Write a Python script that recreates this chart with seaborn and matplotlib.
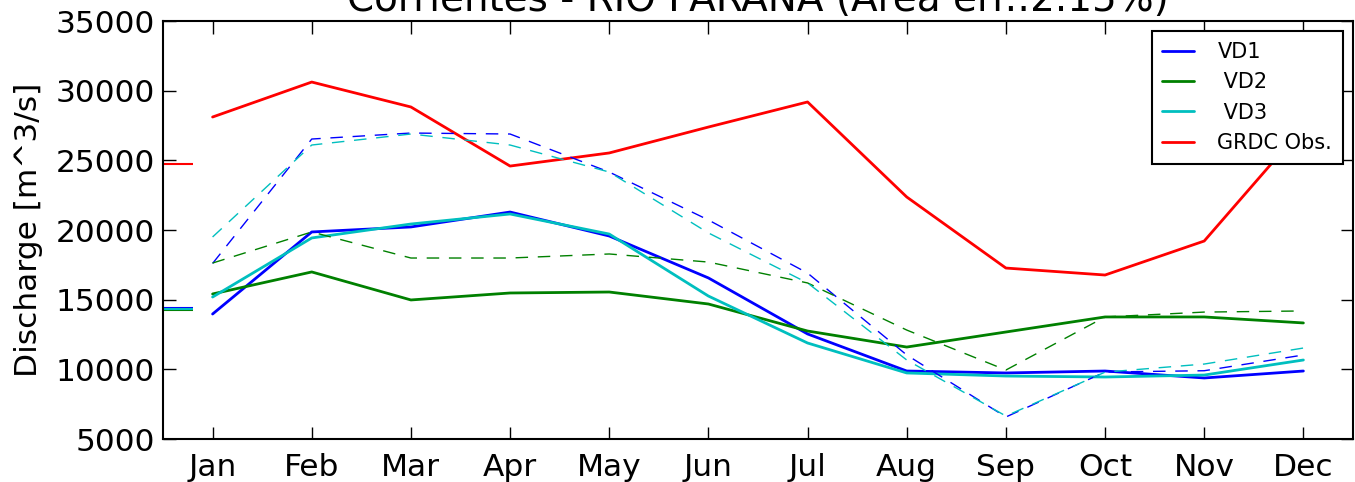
import numpy as np
import pandas as pd
import matplotlib
matplotlib.use("Agg")
import matplotlib.pyplot as plt
import seaborn as sns

months = ['Jan', 'Feb', 'Mar', 'Apr', 'May', 'Jun',
          'Jul', 'Aug', 'Sep', 'Oct', 'Nov', 'Dec']
month_num = np.arange(1, 13)

# simulated discharge (solid) and the second run (dashed), observed GRDC
vd1 = [13970, 19860, 20220, 21290, 19570, 16560, 12540, 9880, 9740, 9880, 9380, 9880]
vd2 = [15410, 16990, 14980, 15480, 15550, 14690, 12750, 11600, 12680, 13760, 13760, 13330]
vd3 = [15190, 19430, 20430, 21150, 19710, 15260, 11890, 9740, 9520, 9450, 9590, 10670]
grdc = [28110, 30620, 28830, 24590, 25530, 27390, 29190, 22370, 17270, 16770, 19210, 27400]

vd1_b = [17600, 26530, 26960, 26890, 24160, 20720, 16910, 11030, 6580, 9810, 9900, 11030]
vd2_b = [17630, 19860, 17990, 17990, 18280, 17700, 16200, 12820, 9950, 13760, 14110, 14190]
vd3_b = [19500, 26100, 26890, 26100, 24160, 19790, 16200, 10670, 6650, 9800, 10380, 11530]

title = 'Corrientes - RIO PARANA (Area err.:2.15%)'

sns.set_style('ticks')
plt.rcParams['font.family'] = ['DejaVu Sans']
plt.rcParams['xtick.direction'] = 'in'
plt.rcParams['ytick.direction'] = 'in'
plt.rcParams['xtick.top'] = True
plt.rcParams['ytick.right'] = True
for k in ['text.color', 'axes.labelcolor', 'xtick.color', 'ytick.color', 'axes.edgecolor']:
    plt.rcParams[k] = 'black'

fig = plt.figure(figsize=(13.55, 4.82), dpi=100)
ax = fig.add_axes([0.1203, 0.0892, 0.8782, 0.8672])

solid = [(vd1, 'b', 'VD1'), (vd2, 'g', ' VD2'), (vd3, 'c', ' VD3'), (grdc, 'r', 'GRDC Obs.')]
dashed = [(vd1_b, 'b'), (vd2_b, 'g'), (vd3_b, 'c')]

for vals, col, lab in solid:
    sns.lineplot(x=month_num, y=vals, color=col, lw=2, label=lab, ax=ax)
for vals, col in dashed:
    sns.lineplot(x=month_num, y=vals, color=col, lw=1, ls=(0, (9, 7)),
                 label='_nolegend_', ax=ax)

# annual means as short marks at the left edge
for vals, col, lab in solid:
    ax.hlines(np.mean(vals), 0.5, 0.8, colors=col, lw=1.5)

ax.set_xlim(0.5, 12.5)
ax.set_ylim(5000, 35000)
ax.set_xticks(month_num)
ax.set_xticklabels(months)
ax.set_yticks(np.arange(5000, 35001, 5000))
ax.tick_params(labelsize=22.5, length=9, width=1, pad=6)
ax.tick_params(axis='x', pad=10)
ax.set_ylabel('Discharge [m^3/s]', fontsize=22.5, labelpad=9)
ax.set_title(title, fontsize=28, pad=7)
for s in ax.spines.values():
    s.set_linewidth(1.5)
    s.set_visible(True)

leg = ax.legend(loc='upper right', fontsize=15, fancybox=False, framealpha=1,
                edgecolor='k', handlelength=1.55, handletextpad=1.1,
                labelspacing=0.5, borderpad=0.5, borderaxespad=0.5)
leg.get_frame().set_linewidth(1.5)

plt.savefig('out.png', dpi=100)
